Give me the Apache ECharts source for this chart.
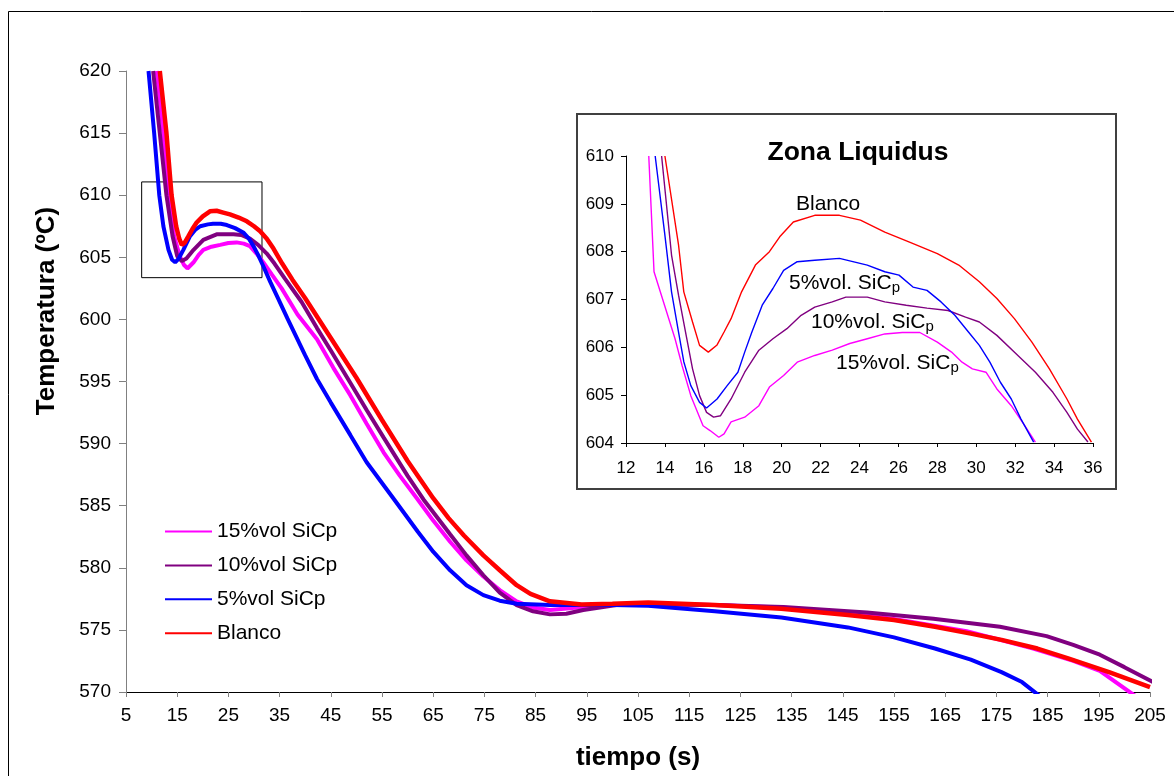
<!DOCTYPE html>
<html>
<head>
<meta charset="utf-8">
<script src="https://cdn.jsdelivr.net/npm/echarts@6/dist/echarts.min.js"></script>
<style>html,body{margin:0;padding:0;background:#fff}#c{width:1174px;height:776px}</style>
</head>
<body>
<div id="c"></div>
<script>
// ---------- Main chart data (tiempo s, temperatura ºC) ----------
const seriesNames = ['15%vol SiCp', '10%vol SiCp', '5%vol SiCp', 'Blanco'];
const seriesColors = ['#FF00FF', '#800080', '#0000FF', '#FF0000'];

const t15 = [11.0, 12.3, 13.3, 14.4, 15.5, 16.3, 17.0, 18.2, 19.2, 20.1, 21.7, 23.4, 25.0, 26.6, 28.0, 29.2, 30.5, 31.8, 33.5, 35.4, 38.5, 42.3, 45.5, 48.8, 52, 55.3, 58.5, 61.8, 65, 68.3, 71.5, 74.8, 78, 81.3, 84.5, 87.8, 94.3, 100, 107.3, 120, 133, 146, 156.2, 169.2, 182.2, 190, 195.2, 201.7, 205];
const v15 = [620, 615, 610, 606.7, 605.1, 604.4, 604.1, 604.6, 605.2, 605.6, 605.85, 606.0, 606.15, 606.2, 606.1, 605.9, 605.3, 604.6, 603.6, 602.5, 600.4, 598.4, 596.1, 593.9, 591.6, 589.3, 587.4, 585.6, 583.8, 582.1, 580.6, 579.3, 578.2, 577.3, 576.8, 576.6, 576.85, 577.0, 577.1, 577.0, 576.8, 576.4, 575.8, 574.9, 573.5, 572.5, 571.7, 569.8, 569.0];

const t10 = [10.3, 11.6, 12.9, 14.1, 15.0, 15.9, 16.8, 18.2, 20.1, 22.7, 26.0, 27.5, 29.2, 30.8, 32.5, 34, 36, 39.3, 42.3, 45, 48.8, 52, 55.3, 60, 63.1, 68.3, 71.5, 74.8, 78, 81.3, 84.5, 87.8, 91, 94.3, 100.8, 107.3, 120, 133.4, 149.7, 162.7, 175.7, 184.8, 190, 195.2, 200, 205.6];
const v10 = [620, 615, 610, 606.7, 605.1, 604.7, 604.9, 605.6, 606.4, 606.85, 606.85, 606.8, 606.5, 606.0, 605.3, 604.5, 603.3, 601.4, 599.3, 597.5, 594.9, 592.7, 590.5, 587.4, 585.5, 582.7, 581.0, 579.4, 578.0, 577.0, 576.5, 576.25, 576.3, 576.6, 577.0, 577.05, 577.0, 576.85, 576.4, 575.9, 575.25, 574.5, 573.8, 573.0, 572.0, 570.8];

const t5 = [9.4, 10.5, 11.5, 12.3, 13.3, 14.0, 14.6, 15.3, 16.2, 17.5, 18.5, 19.5, 21.0, 22.0, 23.5, 24.7, 26.3, 27.9, 29.0, 29.9, 30.8, 31.8, 33.2, 34.7, 36.5, 40, 42.3, 45, 48.8, 52, 57.2, 62, 65, 68.3, 71.5, 74.8, 78, 81.3, 87.8, 94, 100, 107, 120, 133, 146, 155, 163, 170, 176, 180, 184];
const v5 = [620, 615, 610, 607.5, 605.6, 604.8, 604.6, 604.9, 605.6, 606.7, 607.2, 607.5, 607.65, 607.7, 607.7, 607.6, 607.35, 607.0, 606.5, 605.9, 605.2, 604.3, 603.0, 601.7, 600.1, 597.1, 595.2, 593.3, 590.7, 588.5, 585.6, 582.9, 581.3, 579.8, 578.6, 577.8, 577.35, 577.1, 577.0, 577.0, 577.0, 576.95, 576.5, 576.0, 575.2, 574.4, 573.5, 572.6, 571.6, 570.8, 569.5];

const tB = [11.6, 12.9, 13.9, 14.8, 15.4, 15.9, 16.5, 17.2, 18.0, 18.8, 20.0, 21.4, 22.7, 24.0, 25.3, 27.0, 28.6, 30.0, 31.2, 32.5, 33.8, 35.5, 37.5, 40, 45, 50, 55, 60, 65, 68, 71, 74.8, 78, 81.3, 84, 87.8, 94, 100, 107, 120, 133, 146, 155, 163, 170, 176, 183, 189, 197, 205];
const vB = [620, 615, 610, 607.5, 606.5, 606.0, 606.2, 606.7, 607.3, 607.8, 608.3, 608.7, 608.75, 608.6, 608.45, 608.2, 607.9, 607.5, 607.1, 606.5, 605.7, 604.5, 603.2, 601.7, 598.5, 595.3, 591.9, 588.6, 585.6, 584.0, 582.6, 581.0, 579.8, 578.6, 577.9, 577.3, 577.05, 577.1, 577.2, 577.0, 576.7, 576.2, 575.8, 575.25, 574.7, 574.2, 573.5, 572.7, 571.6, 570.4];

// rectangle marking the zoomed zone on the main chart [t0, t1, T0, T1]
const zoomBox = [8.06, 31.56, 603.36, 611.07];

// ---------- Inset "Zona Liquidus" data ----------
const it15 = [13.17, 13.44, 13.98, 14.52, 14.88, 15.33, 15.96, 16.32, 16.77, 17.04, 17.4, 18.1, 18.83, 19.37, 20.1, 20.8, 21.7, 22.6, 23.5, 24.4, 25.3, 26.2, 27.1, 28.0, 28.73, 29.27, 29.8, 30.5, 31.06, 31.8, 32.5, 33.04];
const iv15 = [610, 607.58, 606.88, 606.18, 605.62, 604.99, 604.36, 604.26, 604.12, 604.19, 604.44, 604.54, 604.78, 605.17, 605.41, 605.69, 605.83, 605.94, 606.08, 606.18, 606.28, 606.31, 606.31, 606.11, 605.9, 605.69, 605.55, 605.48, 605.13, 604.78, 604.36, 604.02];

const it10 = [13.83, 14.34, 14.7, 15.06, 15.42, 15.78, 16.14, 16.5, 16.86, 17.4, 18.1, 18.83, 19.55, 20.27, 21.0, 21.7, 22.6, 23.3, 24.4, 25.3, 26.4, 27.47, 28.55, 29.45, 30.16, 31.06, 32.14, 33.04, 33.94, 34.66, 35.2, 35.74];
const iv10 = [610, 607.93, 607.09, 606.32, 605.55, 604.99, 604.64, 604.54, 604.57, 604.92, 605.48, 605.94, 606.18, 606.39, 606.67, 606.84, 606.95, 607.05, 607.05, 606.95, 606.88, 606.82, 606.77, 606.63, 606.53, 606.25, 605.83, 605.48, 605.06, 604.64, 604.29, 604.02];

const it5 = [13.5, 13.98, 14.34, 14.7, 14.97, 15.33, 15.78, 16.14, 16.68, 17.2, 17.75, 18.1, 18.47, 19.0, 19.55, 20.1, 20.8, 21.7, 22.97, 24.4, 25.3, 26.03, 26.75, 27.47, 28.19, 28.9, 29.6, 30.16, 30.7, 31.24, 31.8, 32.3, 32.95];
const iv5 = [610, 608.41, 607.16, 606.32, 605.7, 605.2, 604.85, 604.73, 604.92, 605.2, 605.48, 605.9, 606.32, 606.88, 607.23, 607.61, 607.79, 607.82, 607.86, 607.72, 607.58, 607.51, 607.26, 607.19, 606.95, 606.67, 606.32, 606.04, 605.69, 605.27, 604.92, 604.5, 604.02];

const itB = [14.0, 14.7, 14.97, 15.42, 15.78, 16.23, 16.68, 17.04, 17.4, 17.94, 18.65, 19.37, 19.9, 20.6, 21.7, 22.97, 24.05, 25.3, 26.57, 28.0, 29.1, 30.16, 31.06, 31.96, 32.86, 33.76, 34.66, 35.2, 35.92];
const ivB = [610, 608.14, 607.16, 606.53, 606.04, 605.9, 606.05, 606.32, 606.6, 607.16, 607.72, 608.0, 608.31, 608.62, 608.76, 608.76, 608.66, 608.41, 608.2, 607.96, 607.72, 607.37, 607.02, 606.6, 606.11, 605.55, 604.92, 604.5, 604.02];

const insetLabels = ['Blanco', '5%vol. SiC', '10%vol. SiC', '15%vol. SiC'];

// ---------- build ----------
const zip = (t, v) => t.map((x, i) => [x, v[i]]);
const mainData = [zip(t15, v15), zip(t10, v10), zip(t5, v5), zip(tB, vB)];
const insetData = [zip(it15, iv15), zip(it10, iv10), zip(it5, iv5), zip(itB, ivB)];

const FONT = 'Liberation Sans, Arial, sans-serif';

const series = [];
mainData.forEach((d, i) => {
  const s = {
    name: seriesNames[i], type: 'line', data: d, xAxisIndex: 0, yAxisIndex: 0,
    symbol: 'none', clip: true, z: 3,
    lineStyle: { color: seriesColors[i], width: i === 3 ? 4.5 : 4 }, itemStyle: { color: seriesColors[i] }
  };
  if (i === 3) {
    s.markArea = {
      silent: true,
      itemStyle: { color: 'rgba(0,0,0,0)', borderColor: '#000', borderWidth: 1 },
      data: [[{ coord: [zoomBox[0], zoomBox[3]] }, { coord: [zoomBox[1], zoomBox[2]] }]]
    };
  }
  series.push(s);
});
insetData.forEach((d, i) => {
  series.push({
    name: 'inset ' + seriesNames[i], type: 'line', data: d, xAxisIndex: 1, yAxisIndex: 1,
    symbol: 'none', clip: true, z: 3,
    lineStyle: { color: seriesColors[i], width: 1.4 }, itemStyle: { color: seriesColors[i] }
  });
});

const subRich = {
  a: { fontSize: 21, fontFamily: FONT, fill: '#000' },
  b: { fontSize: 15, fontFamily: FONT, fill: '#000', padding: [10, 0, 0, 0] }
};

const chart = echarts.init(document.getElementById('c'), null, { renderer: 'canvas' });
chart.setOption({
  animation: false,
  backgroundColor: '#fff',
  legend: {
    data: seriesNames,
    orient: 'vertical', left: 160, top: 516,
    itemWidth: 47, itemHeight: 14, itemGap: 12.9,
    icon: 'path://M0,6 L47,6 L47,8 L0,8 Z',
    textStyle: { fontSize: 21, fontFamily: FONT, color: '#000', lineHeight: 18 },
    selectedMode: false
  },
  grid: [
    { left: 126, top: 71, width: 1024, height: 623 },
    { left: 626, top: 156, width: 467, height: 287 }
  ],
  xAxis: [
    {
      type: 'value', gridIndex: 0, min: 5, max: 205, interval: 10,
      name: 'tiempo (s)', nameLocation: 'middle', nameGap: 53,
      nameTextStyle: { fontSize: 26, fontWeight: 'bold', fontFamily: FONT, color: '#000' },
      axisLine: { lineStyle: { color: '#000', width: 1 } },
      axisTick: { show: true, inside: false, length: 5, lineStyle: { color: '#808080' } },
      axisLabel: { fontSize: 19, fontFamily: FONT, color: '#000', margin: 14 },
      splitLine: { show: false }
    },
    {
      type: 'value', gridIndex: 1, min: 12, max: 36, interval: 2,
      axisLine: { onZero: false, lineStyle: { color: '#000', width: 1 } },
      axisTick: { show: true, length: 4, lineStyle: { color: '#000' } },
      axisLabel: { fontSize: 17, fontFamily: FONT, color: '#000', margin: 17 },
      splitLine: { show: false }
    }
  ],
  yAxis: [
    {
      type: 'value', gridIndex: 0, min: 570, max: 620, interval: 5,
      axisLine: { show: true, onZero: false, lineStyle: { color: '#808080', width: 1 } },
      axisTick: { show: true, length: 7, lineStyle: { color: '#808080' } },
      axisLabel: { fontSize: 19, fontFamily: FONT, color: '#000', margin: 15 },
      splitLine: { show: false }
    },
    {
      type: 'value', gridIndex: 1, min: 604, max: 610, interval: 1,
      axisLine: { show: true, onZero: false, lineStyle: { color: '#000', width: 1 } },
      axisTick: { show: true, length: 5, lineStyle: { color: '#000' } },
      axisLabel: { fontSize: 17, fontFamily: FONT, color: '#000', margin: 12 },
      splitLine: { show: false }
    }
  ],
  graphic: [
    { type: 'rect', z: 1, shape: { x: 8.5, y: 11.5, width: 1200, height: 800 }, style: { fill: null, stroke: '#000', lineWidth: 1 } },
    { type: 'rect', z: 1, shape: { x: 577, y: 114, width: 539, height: 375 }, style: { fill: null, stroke: '#404040', lineWidth: 2 } },
    { type: 'text', z: 5, x: 47, y: 311, rotation: Math.PI / 2, style: { text: 'Temperatura (ºC)', font: 'bold 26px ' + FONT, fill: '#000', textAlign: 'center', textVerticalAlign: 'middle' } },
    { type: 'text', z: 5, x: 858, y: 153, style: { text: 'Zona Liquidus', font: 'bold 26.5px ' + FONT, fill: '#000', textAlign: 'center', textVerticalAlign: 'middle' } },
    { type: 'text', z: 5, x: 796, y: 204, style: { text: insetLabels[0], font: '21px ' + FONT, fill: '#000', textAlign: 'left', textVerticalAlign: 'middle' } },
    { type: 'text', z: 5, x: 789, y: 283, style: { text: '{a|' + insetLabels[1] + '}{b|p}', rich: subRich, textAlign: 'left', textVerticalAlign: 'middle' } },
    { type: 'text', z: 5, x: 811, y: 322, style: { text: '{a|' + insetLabels[2] + '}{b|p}', rich: subRich, textAlign: 'left', textVerticalAlign: 'middle' } },
    { type: 'text', z: 5, x: 836, y: 363, style: { text: '{a|' + insetLabels[3] + '}{b|p}', rich: subRich, textAlign: 'left', textVerticalAlign: 'middle' } }
  ],
  series: series
});
</script>
</body>
</html>
